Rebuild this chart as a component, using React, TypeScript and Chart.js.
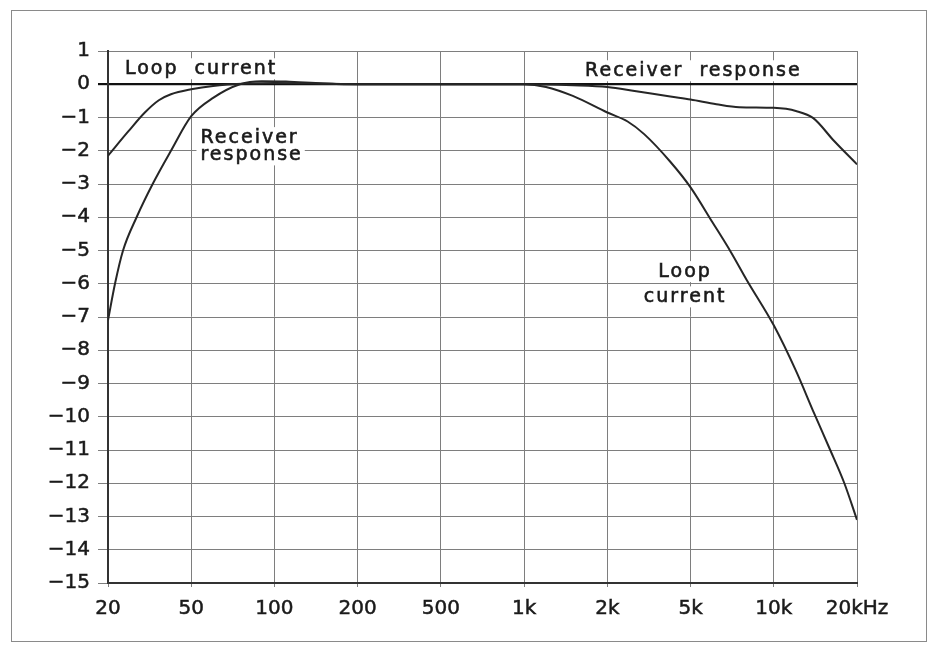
import React, { useEffect, useRef } from "react";
import { Chart, registerables } from "chart.js";

Chart.register(...registerables);

// Frequency grid (equally spaced 1-2-5 columns)
const tickFreqs = [20, 50, 100, 200, 500, 1000, 2000, 5000, 10000, 20000];
const tickLabels = ["20", "50", "100", "200", "500", "1k", "2k", "5k", "10k", "20kHz"];

// Loop current (dB vs Hz)
const loopFreqs = [20, 25, 30, 35, 40, 50, 60, 80, 100, 150, 200, 500, 1000, 1200, 1500, 2000, 2500, 3000, 4000, 5000, 6000, 7000, 8000, 10000, 12000, 14000, 16000, 18000, 20000];
const loopDb = [-2.15, -1.42, -0.85, -0.48, -0.3, -0.15, -0.05, 0.02, 0.04, 0.02, 0, 0, 0, -0.08, -0.35, -0.85, -1.12, -1.5, -2.33, -3.1, -4.15, -5.05, -5.9, -7.25, -8.6, -9.9, -11.0, -12.0, -13.1];

// Receiver response (dB vs Hz)
const recvFreqs = [20, 21.6, 23.6, 27.4, 32.7, 40, 50, 60, 75, 90, 110, 150, 200, 500, 1000, 1500, 2000, 2700, 4000, 5000, 6200, 7500, 10000, 12100, 13900, 16500, 20000];
const recvDb = [-7.1, -6.0, -5.0, -4.0, -3.0, -2.0, -0.96, -0.41, 0, 0.09, 0.08, 0.02, 0, 0, 0, -0.03, -0.08, -0.2, -0.37, -0.46, -0.6, -0.69, -0.71, -0.81, -1.02, -1.7, -2.41];

// Y axis
const yMin = -15;
const yMax = 1;

// Text annotations (anchored in data units: Hz, dB baseline)
const noteTexts = ["Loop  current", "Receiver", "response", "Receiver  response", "Loop", "current"];
const noteFreqs = [24.1, 54, 54, 1662, 4710, 4710];
const noteDb = [0.3, -1.77, -2.29, 0.24, -5.8, -6.56];
const noteAlign = ["left", "left", "left", "left", "center", "center"];

function freqToPos(f: number): number {
  for (let k = 0; k < tickFreqs.length - 1; k++) {
    const a = tickFreqs[k];
    const b = tickFreqs[k + 1];
    if (f <= b || k === tickFreqs.length - 2) {
      return k + Math.log(f / a) / Math.log(b / a);
    }
  }
  return 0;
}

const FONT = "'DejaVu Sans', sans-serif";
const INK = "#1a1a1a";
const GRID = "#7e7e7e";

const notesPlugin = {
  id: "notes",
  beforeDatasetsDraw(chart: any) {
    const ctx = chart.ctx;
    const xs = chart.scales.x;
    const ys = chart.scales.y;
    ctx.save();
    ctx.font = `19px ${FONT}`;
    (ctx as any).letterSpacing = "2px";
    ctx.textBaseline = "alphabetic";
    ctx.textAlign = "left";
    const boxes: number[][] = [];
    for (let i = 0; i < noteTexts.length; i++) {
      const px = xs.getPixelForValue(freqToPos(noteFreqs[i]));
      const py = ys.getPixelForValue(noteDb[i]);
      const w = ctx.measureText(noteTexts[i]).width;
      const left = noteAlign[i] === "center" ? px - w / 2 : px;
      boxes.push([left, py]);
      ctx.fillStyle = "#ffffff";
      ctx.fillRect(left - 4, py - 16, w + 6, 21);
    }
    ctx.fillStyle = INK;
    ctx.strokeStyle = INK;
    ctx.lineWidth = 0.6;
    for (let i = 0; i < noteTexts.length; i++) {
      const [left, py] = boxes[i];
      ctx.fillText(noteTexts[i], left, py);
      ctx.strokeText(noteTexts[i], left, py);
    }
    ctx.restore();
  },
};

export default function App() {
  const ref = useRef<HTMLCanvasElement | null>(null);

  useEffect(() => {
    if (!ref.current) return;
    const chart = new Chart(ref.current, {
      type: "line",
      data: {
        datasets: [
          {
            label: "Loop current",
            data: loopFreqs.map((f, i) => ({ x: freqToPos(f), y: loopDb[i] })),
            borderColor: "#262626",
            borderWidth: 2,
            pointRadius: 0,
            cubicInterpolationMode: "monotone",
            fill: false,
          },
          {
            label: "Receiver response",
            data: recvFreqs.map((f, i) => ({ x: freqToPos(f), y: recvDb[i] })),
            borderColor: "#262626",
            borderWidth: 2,
            pointRadius: 0,
            cubicInterpolationMode: "monotone",
            fill: false,
          },
        ],
      },
      options: {
        animation: false,
        responsive: false,
        events: [],
        layout: { padding: { top: 51, right: 79, left: 0, bottom: 0 } },
        plugins: {
          legend: { display: false },
          tooltip: { enabled: false },
        },
        scales: {
          x: {
            type: "linear",
            min: 0,
            max: tickFreqs.length - 1,
            afterBuildTicks: (scale: any) => {
              scale.ticks = tickFreqs.map((_, i) => ({ value: i }));
            },
            afterFit: (scale: any) => {
              scale.height = 62;
            },
            ticks: {
              autoSkip: false,
              maxRotation: 0,
              padding: 10,
              color: INK,
              textStrokeColor: INK,
              textStrokeWidth: 0.5,
              font: { family: FONT, size: 20 },
              callback: (v: any) => tickLabels[Math.round(Number(v))] ?? "",
            },
            grid: {
              color: GRID,
              lineWidth: 1,
              tickLength: 4,
            },
            border: { display: true, color: "#333333", width: 2 },
          },
          y: {
            type: "linear",
            min: yMin,
            max: yMax,
            afterBuildTicks: (scale: any) => {
              const t: any[] = [];
              for (let v = yMin; v <= yMax; v++) t.push({ value: v });
              scale.ticks = t;
            },
            afterFit: (scale: any) => {
              scale.width = 108;
            },
            ticks: {
              padding: 8,
              color: INK,
              textStrokeColor: INK,
              textStrokeWidth: 0.5,
              font: { family: FONT, size: 20 },
              callback: (v: any) => {
                const n = Number(v);
                return n < 0 ? "\u2212" + Math.abs(n) : String(n);
              },
            },
            grid: {
              color: (c: any) => (c.tick && c.tick.value === 0 ? "#111111" : GRID),
              lineWidth: (c: any) => (c.tick && c.tick.value === 0 ? 2.2 : 1),
              tickLength: 10,
            },
            border: { display: true, color: "#333333", width: 2 },
          },
        },
      },
      plugins: [notesPlugin],
    });
    return () => chart.destroy();
  }, []);

  return (
    <div style={{ position: "absolute", left: 0, top: 0, width: 936, height: 645, background: "#fff" }}>
      <div
        style={{
          position: "absolute",
          left: 11,
          top: 10,
          width: 916,
          height: 632,
          border: "1.5px solid #8a8a8a",
          boxSizing: "border-box",
        }}
      />
      <canvas ref={ref} width={936} height={645} style={{ position: "absolute", left: 0, top: 0 }} />
    </div>
  );
}
